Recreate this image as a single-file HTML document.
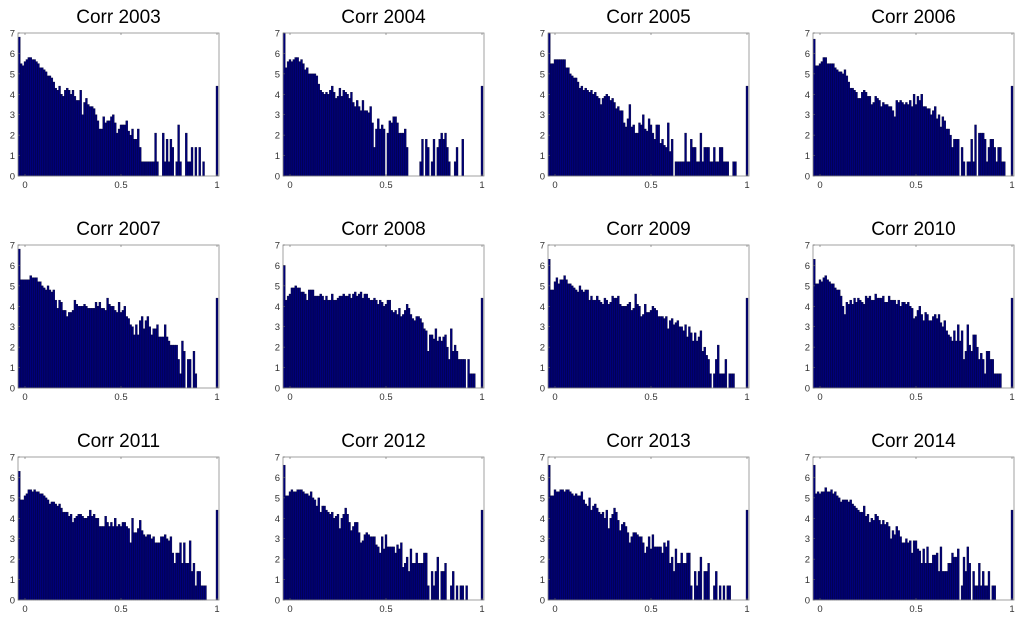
<!DOCTYPE html>
<html><head><meta charset="utf-8">
<style>
html,body{margin:0;padding:0;background:#fff;}
svg{display:block;font-family:"Liberation Sans",sans-serif;}
</style></head>
<body>
<svg id="chart" width="1024" height="621" viewBox="0 0 1024 621" xmlns="http://www.w3.org/2000/svg"></svg>
<script>
const years = ["2003","2004","2005","2006","2007","2008","2009","2010","2011","2012","2013","2014"];
const yTicks = [0,1,2,3,4,5,6,7];
const xTicks = [0,0.5,1];
const xTickLabels = ["0","0.5","1"];
const s2003 = [6.8,5.5,5.4,5.6,5.7,5.8,5.8,5.7,5.7,5.6,5.5,5.3,5.3,5.2,5.1,4.9,4.9,4.8,4.6,4.3,4.2,4.4,4.0,3.9,4.2,4.3,4.2,4.0,4.2,3.9,3.7,3.7,4.2,3.0,3.6,3.8,3.5,3.4,3.4,3.3,3.0,2.7,2.3,2.3,2.9,2.6,2.7,2.7,2.9,3.0,2.6,2.1,2.3,2.5,2.5,2.5,2.7,2.2,2.0,2.3,1.8,1.8,2.3,1.4,0.7,0.7,0.7,0.7,0.7,0.7,0.7,2.1,0.7,0,0,2.1,0.7,1.8,0.7,1.8,1.4,0,0.7,2.5,0.7,0,0,2.1,0.7,0.7,1.4,0,1.4,0,1.4,0,0.7,0,0,4.4];
const s2004 = [7.0,5.3,5.6,5.7,5.6,5.7,5.8,5.8,5.6,5.7,5.5,5.2,5.3,5.0,5.0,5.0,5.0,4.9,4.5,4.2,4.1,4.0,4.1,4.0,4.2,4.4,4.1,3.8,3.9,4.3,3.9,4.2,4.1,4.0,3.8,4.1,3.6,3.4,3.7,3.4,3.2,3.7,3.2,3.2,3.1,3.4,2.6,1.4,2.3,2.8,2.3,2.5,2.3,0,2.1,2.7,2.6,2.9,2.9,2.6,2.1,2.1,2.1,2.3,1.4,0,0,0,0,0,0,0.7,1.8,0,1.8,1.4,0,0.7,1.8,0,1.4,1.8,2.1,1.8,2.1,1.4,0.7,0,0,0.7,1.4,0,0,1.8,0,0,0,0,0,4.4];
const s2005 = [7.0,5.5,5.5,5.7,5.7,5.7,5.7,5.7,5.7,5.3,5.3,5.0,4.9,4.8,4.8,4.6,4.3,4.4,4.2,4.3,4.2,4.1,4.2,4.0,4.1,3.9,3.8,3.5,3.8,3.9,4.0,3.9,3.7,3.8,3.6,3.3,3.4,3.2,3.2,2.6,2.4,2.8,3.5,2.4,2.5,2.1,2.1,2.6,2.5,3.0,2.3,2.2,2.8,2.5,2.1,1.8,2.5,2.5,1.6,1.8,1.5,1.4,2.6,1.2,1.8,0,0.7,0.7,0.7,0.7,0.7,2.1,0.7,0.7,1.8,1.4,1.4,0.7,0.7,2.1,0.7,1.4,1.4,1.4,0.7,0.7,1.4,0.7,0.7,1.4,1.4,0.7,0.7,0.7,0,0,0.7,0.7,0,4.4];
const s2006 = [6.7,5.4,5.4,5.5,5.6,5.8,5.8,5.5,5.5,5.5,5.5,5.3,5.2,5.1,5.1,5.0,5.2,4.9,4.6,4.3,4.3,4.2,4.1,3.8,3.8,4.1,4.2,4.1,3.9,3.9,3.5,3.6,3.9,3.8,3.7,3.4,3.6,3.5,3.5,3.4,3.4,3.2,2.9,3.7,3.6,3.7,3.6,3.5,3.6,3.5,3.7,3.4,4.0,3.5,3.9,3.7,4.0,3.4,3.4,3.3,3.3,3.0,3.2,3.4,2.8,3.0,2.4,2.9,2.7,2.3,2.3,2.0,1.4,1.8,1.8,1.8,0,1.4,0.7,0,0.7,0.7,1.8,0.7,2.5,0,2.1,2.1,2.1,1.8,0.7,1.4,1.8,1.8,1.4,0.7,1.4,1.4,0.7,0.7,4.4];
const s2007 = [6.8,5.3,5.3,5.3,5.3,5.3,5.5,5.4,5.4,5.4,5.2,5.2,5.0,4.9,4.8,5.0,4.8,4.7,4.8,4.3,3.9,4.3,4.2,3.8,3.8,3.5,3.7,3.7,3.8,4.3,4.1,4.0,4.0,4.0,4.1,4.0,3.9,3.9,3.9,3.9,4.2,4.0,4.2,3.9,3.9,3.8,4.4,4.1,4.0,4.0,3.8,3.7,4.2,3.7,3.8,4.0,3.5,3.4,3.1,3.0,2.6,3.1,2.6,3.3,3.5,2.9,3.3,3.5,3.0,2.6,2.9,2.9,3.1,2.5,2.5,2.5,3.1,2.5,2.3,2.1,2.1,2.1,2.1,1.4,0.7,2.3,1.8,0,1.4,1.4,0,1.8,0.7,0,0,0,0,4.4];
const s2008 = [6.0,4.3,4.5,4.6,4.9,4.9,5.0,4.9,4.9,4.7,4.7,4.6,4.3,4.8,4.8,4.8,4.5,4.5,4.5,4.6,4.5,4.3,4.5,4.3,4.3,4.6,4.3,4.3,4.4,4.5,4.5,4.6,4.5,4.5,4.6,4.4,4.6,4.7,4.5,4.6,4.7,4.4,4.6,4.6,4.4,4.3,4.3,4.4,4.3,4.1,4.3,4.2,4.0,4.1,4.3,4.3,3.8,3.7,3.8,3.6,3.9,3.5,3.6,3.8,4.1,3.9,3.6,3.4,3.3,3.5,3.5,3.4,3.2,2.9,2.8,1.8,2.6,2.6,2.4,2.9,2.3,2.5,2.3,2.5,2.6,2.0,1.4,2.9,1.8,2.1,1.8,1.4,1.4,1.4,1.4,0,1.4,0.7,0.7,0.7,0,4.4];
const s2009 = [6.3,4.8,4.8,5.2,5.4,5.1,5.3,5.3,5.5,5.3,5.1,5.1,5.0,4.9,4.8,4.7,5.0,4.8,4.7,4.8,4.8,4.3,4.5,4.3,4.3,4.5,4.3,4.2,4.1,4.4,4.3,4.1,4.2,4.5,4.4,4.4,4.5,4.1,4.0,4.0,4.0,4.1,4.2,3.8,3.9,4.6,4.1,4.0,3.5,3.6,4.1,3.7,3.7,3.8,4.0,3.9,3.8,3.5,3.5,3.5,3.4,3.5,2.9,3.3,3.4,3.1,3.2,3.3,3.0,3.0,2.8,3.1,2.5,3.0,2.7,2.3,2.7,2.3,2.5,2.8,1.8,2.0,1.6,1.4,0.7,0,0.7,1.4,2.1,0.7,0.7,0.7,1.4,0,0.7,0.7,0.7,0,4.4];
const s2010 = [6.3,5.1,5.1,5.3,5.2,5.4,5.5,5.3,5.2,5.1,5.1,4.9,4.8,4.8,4.5,4.0,3.6,4.2,4.1,4.3,4.1,4.4,4.2,4.4,4.3,4.2,4.1,4.5,4.4,4.5,4.3,4.3,4.6,4.4,4.4,4.4,4.5,4.2,4.2,4.5,4.3,4.3,4.3,4.1,4.3,4.0,4.2,4.2,4.1,4.2,4.0,3.9,3.4,3.5,3.8,4.0,3.6,3.3,3.7,3.6,3.3,3.3,3.5,3.6,3.4,3.6,3.2,3.0,3.3,2.8,2.6,2.5,2.3,2.8,2.3,3.1,2.3,2.8,1.4,1.8,3.1,2.1,1.8,2.6,2.6,2.0,1.4,1.7,1.4,0.7,1.8,1.8,1.4,1.4,0.7,0.7,0.7,0.7,4.4];
const s2011 = [6.3,4.9,4.9,5.1,5.2,5.4,5.4,5.3,5.4,5.3,5.3,5.2,5.2,5.1,5.0,4.9,4.7,4.8,4.8,4.7,4.6,4.7,4.5,4.3,4.3,4.3,4.1,4.2,3.8,4.0,4.1,4.2,4.2,4.1,4.0,4.0,4.1,4.4,4.1,4.2,4.0,4.0,3.6,3.6,3.6,4.1,3.8,3.6,3.8,3.6,4.0,3.6,3.7,3.6,3.8,3.8,3.6,3.5,2.8,4.0,3.3,3.3,3.5,3.9,3.4,3.2,3.1,3.2,3.2,3.0,3.1,2.8,2.8,2.8,3.1,3.1,3.2,3.0,2.9,3.1,2.3,1.8,2.3,2.3,2.8,1.8,2.8,1.8,1.8,2.9,1.4,1.8,0.7,1.4,1.4,0.7,0.7,0.7,4.4];
const s2012 = [6.6,5.1,5.1,5.3,5.4,5.3,5.3,5.4,5.4,5.4,5.3,5.2,5.2,5.1,5.3,5.0,4.9,4.6,5.0,4.3,4.6,4.6,4.4,4.3,4.2,4.3,4.0,4.1,4.2,3.5,4.0,4.2,4.5,4.2,3.8,3.4,3.6,3.8,3.8,3.3,2.8,2.9,3.2,3.3,3.2,3.1,3.1,3.1,2.7,2.6,2.3,3.1,2.5,3.2,2.6,2.6,2.6,2.6,2.3,2.7,2.5,2.8,1.6,1.8,2.1,1.4,2.5,1.8,1.8,2.3,1.8,1.8,1.8,2.3,2.3,0.7,0,1.4,0.7,1.4,2.1,0,1.4,1.4,1.8,0,0,0.7,1.4,0,0.7,0,0.7,0.7,0,0.7,0,0,4.4];
const s2013 = [6.6,5.1,5.1,5.4,5.3,5.3,5.4,5.4,5.3,5.4,5.4,5.3,5.2,5.1,5.2,5.1,5.1,5.3,4.9,4.7,4.6,5.0,4.4,4.6,4.7,4.5,4.3,4.2,4.3,4.0,4.4,3.5,4.0,4.2,4.5,4.3,3.9,3.4,3.7,3.8,3.6,3.3,2.8,3.1,3.3,3.3,3.2,3.1,3.1,2.8,2.3,2.6,3.1,2.5,3.2,2.6,2.6,2.6,2.6,2.3,2.8,2.6,2.9,1.8,2.1,1.4,2.5,1.8,1.8,2.3,1.8,1.8,2.3,2.3,0.7,0,1.4,0.7,1.4,2.1,0,1.4,1.4,1.8,0,0,0.7,1.4,0,0.7,0,0.7,0,0.7,0.7,0,0,4.4];
const s2014 = [6.6,5.2,5.3,5.2,5.3,5.3,5.5,5.3,5.3,5.4,5.2,5.3,5.1,5.0,4.8,4.9,4.9,4.9,4.8,4.9,4.7,4.6,4.5,4.4,4.3,4.3,4.6,4.1,4.2,3.8,4.0,3.9,4.2,4.1,3.9,3.7,3.9,3.7,3.8,3.6,3.0,3.4,3.2,3.6,3.4,3.1,2.8,2.8,3.0,2.8,2.9,2.3,2.9,2.9,2.5,2.4,1.8,2.5,1.8,2.6,1.8,1.8,2.2,2.2,2.3,1.4,2.6,1.4,1.4,1.4,1.8,1.8,2.3,2.1,2.1,2.5,0,0.7,2.1,1.4,2.6,1.8,0,1.4,0.7,0.7,1.8,0.7,1.4,0.7,0.7,1.4,0,0.7,0.7,0,0,4.4];
const series = [s2003,s2004,s2005,s2006,s2007,s2008,s2009,s2010,s2011,s2012,s2013,s2014];
const binStart = -0.03, binWidth = 0.01, lastBinX = 1.0;

const NS = "http://www.w3.org/2000/svg";
const svg = document.getElementById("chart");
function mk(tag, attrs, parent){
  const e = document.createElementNS(NS, tag);
  for (const k in attrs) e.setAttribute(k, attrs[k]);
  parent.appendChild(e);
  return e;
}
const W = 201, H = 143;
years.forEach((yr, p) => {
  const r = Math.floor(p/4), c = p%4;
  const left = 18 + 265*c, top = 33 + 212*r;
  const xs = v => left + 7 + v*192;
  const ys = v => top + H - v*H/7;
  const g = mk("g", {}, svg);
  
  
  const t = mk("text", {x: left + W/2, y: top - 10, "text-anchor":"middle", "font-size":"19", fill:"#000"}, g);
  t.textContent = "Corr " + yr;
  
  
  const data = series[p];
  const bw = binWidth*192;
  data.forEach((v, i) => {
    const cx = (i === data.length-1) ? lastBinX : binStart + i*binWidth;
    if (i !== data.length-1 && cx > 0.985) return;
    if (v <= 0) return;
    const b = mk("rect", {x: xs(cx) - bw/2, y: ys(v), width: bw, height: ys(0)-ys(v), fill:"#00007a", stroke:"#000033", "stroke-width":"0.4"}, g);
    
    
  });
  mk("rect", {x:left, y:top, width:W, height:H, fill:"none", stroke:"#8a8a8a", "stroke-width":"0.8"}, g);
  yTicks.forEach(v => {
    mk("line", {x1:left, x2:left+2, y1:ys(v), y2:ys(v), stroke:"#666", "stroke-width":"0.6"}, g);
    const l = mk("text", {x:left-3, y:ys(v)+3.5, "text-anchor":"end", "font-size":"9.5", fill:"#333"}, g);
    l.textContent = v;
    
    
  });
  xTicks.forEach((v, i) => {
    mk("line", {x1:xs(v), x2:xs(v), y1:top+H, y2:top+H-2, stroke:"#666", "stroke-width":"0.6"}, g);
    mk("line", {x1:xs(v), x2:xs(v), y1:top, y2:top+2, stroke:"#666", "stroke-width":"0.6"}, g);
    const l = mk("text", {x:xs(v), y:top+H+12, "text-anchor":"middle", "font-size":"9.5", fill:"#333"}, g);
    l.textContent = xTickLabels[i];
    
    
  });
});
</script>
</body></html>
